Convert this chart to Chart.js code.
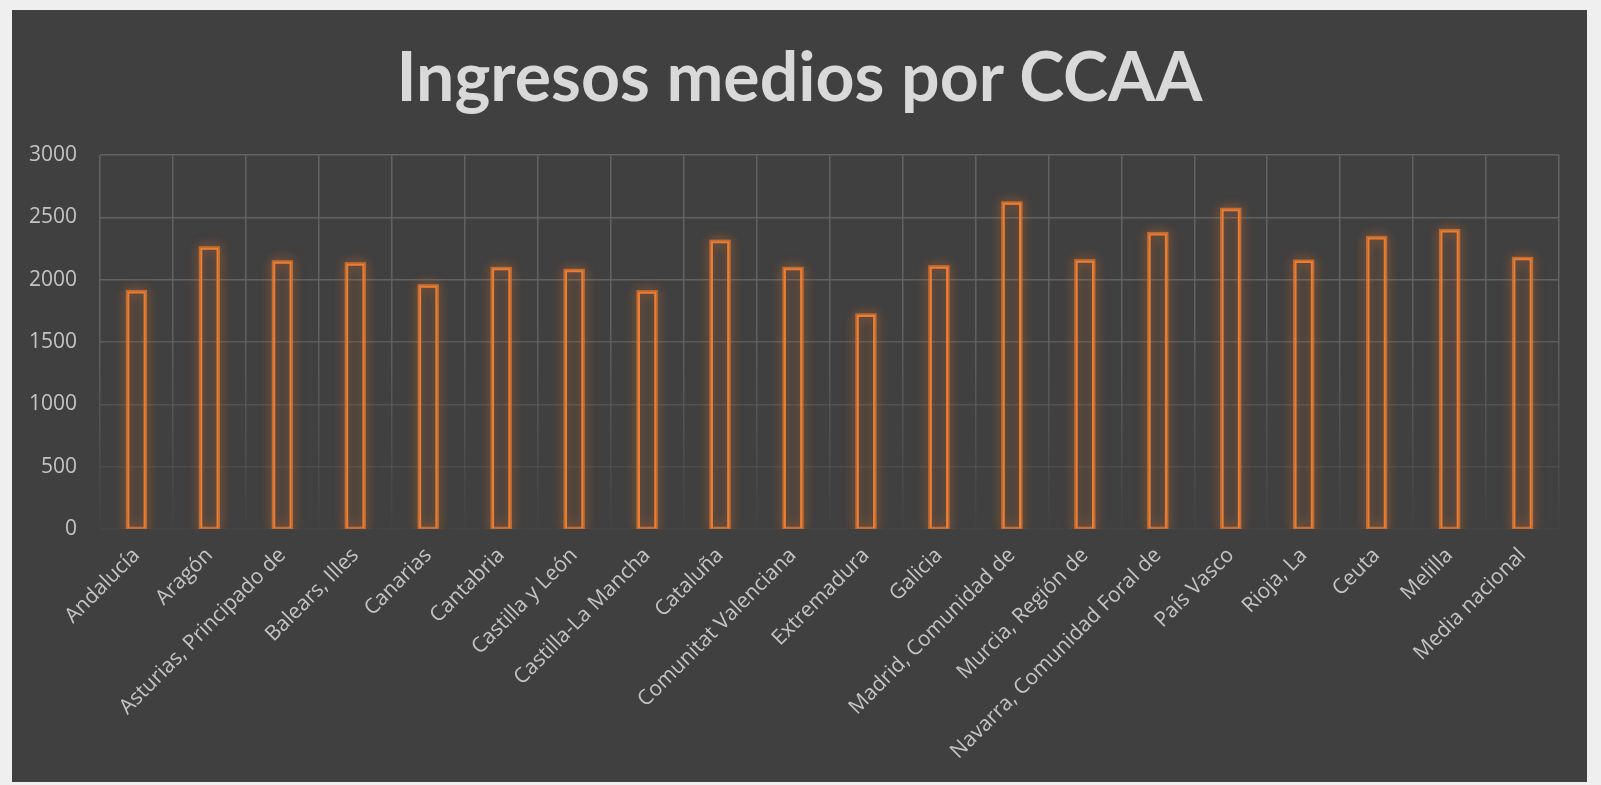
<!DOCTYPE html>
<html>
<head>
<meta charset="utf-8">
<script src="https://cdn.jsdelivr.net/npm/chart.js@4.4.0/dist/chart.umd.min.js"></script>
<style>
    html, body { margin: 0; padding: 0; background: #efefef; }
    body { width: 1601px; height: 785px; position: relative; overflow: hidden; }
    #panel {
        position: absolute; left: 12px; top: 10px;
        width: 1575px; height: 772px;
        background: #404040;
    }
    #title {
        position: absolute; left: 0; top: 31px; width: 1575px;
        text-align: center;
        font-family: Lato, sans-serif; font-weight: bold;
        color: #d9d9d9; line-height: 1;
    }
    canvas { display: block; position: absolute; left: 0; top: 0; }
</style>
</head>
<body>
<div id="panel">
    <canvas id="ingresosChart" width="1575" height="772"></canvas>
    <div id="title"></div>
</div>
<script>
// Ingresos medios por comunidad autónoma
const chartTitle = 'Ingresos medios por CCAA';

const comunidades = [
    'Andalucía', 'Aragón', 'Asturias, Principado de', 'Balears, Illes', 'Canarias',
    'Cantabria', 'Castilla y León', 'Castilla-La Mancha', 'Cataluña', 'Comunitat Valenciana',
    'Extremadura', 'Galicia', 'Madrid, Comunidad de', 'Murcia, Región de',
    'Navarra, Comunidad Foral de', 'País Vasco', 'Rioja, La', 'Ceuta', 'Melilla', 'Media nacional'
];

const ingresos = [
    1906, 2256, 2144, 2128, 1952,
    2091, 2075, 1904, 2309, 2091,
    1717, 2104, 2616, 2152,
    2371, 2565, 2149, 2339, 2395, 2171
];

const yTicks = [0, 500, 1000, 1500, 2000, 2500, 3000];

const ORANGE = '#ED7D31';
const TEXT = '#c4c4c4';

// title: sized so it spans about the same width as the original
(function() {
    const c = document.createElement('canvas').getContext('2d');
    c.font = 'bold 100px Lato';
    const w = c.measureText(chartTitle).width;
    const el = document.getElementById('title');
    el.style.fontSize = Math.round(100 * 806 / w) + 'px';
    el.textContent = chartTitle;
})();

// soft orange halo behind each bar outline
const glowPlugin = {
    id: 'glow',
    beforeDatasetsDraw(chart) {
        const ctx = chart.ctx;
        const area = chart.chartArea;
        ctx.save();
        ctx.beginPath();
        ctx.rect(area.left, area.top - 20, area.right - area.left, area.bottom - area.top + 20);
        ctx.clip();
        ctx.strokeStyle = 'rgba(237, 125, 49, 0.45)';
        ctx.lineWidth = 3;
        ctx.shadowColor = 'rgba(237, 125, 49, 0.9)';
        ctx.shadowBlur = 12;
        chart.getDatasetMeta(0).data.forEach(bar => {
            const p = bar.getProps(['x', 'y', 'base', 'width'], true);
            ctx.strokeRect(p.x - p.width / 2, p.y, p.width, p.base - p.y);
            ctx.strokeRect(p.x - p.width / 2, p.y, p.width, p.base - p.y);
        });
        ctx.restore();
    }
};

function verticalGridColor(context) {
    const chart = context.chart;
    const area = chart.chartArea;
    if (!area) return '#5a5a5a';
    const g = chart.ctx.createLinearGradient(0, area.top, 0, area.bottom);
    g.addColorStop(0, 'rgba(98,98,98,1)');
    g.addColorStop(0.45, 'rgba(98,98,98,1)');
    g.addColorStop(1, 'rgba(98,98,98,0.05)');
    return g;
}

function horizontalGridColor(context) {
    const v = context.tick ? context.tick.value : 3000;
    const a = Math.max(0.12, Math.min(1, 0.12 + (v / 2000) * 0.88));
    return 'rgba(98,98,98,' + a.toFixed(2) + ')';
}

const ctx = document.getElementById('ingresosChart');
new Chart(ctx, {
    type: 'bar',
    data: {
        labels: comunidades,
        datasets: [{
            label: 'Ingresos medios',
            data: ingresos,
            backgroundColor: 'rgba(0,0,0,0)',
            borderColor: ORANGE,
            borderWidth: 2,
            categoryPercentage: 1.0,
            barPercentage: 0.25
        }]
    },
    options: {
        responsive: false,
        animation: false,
        layout: { padding: { left: 0, right: 28, top: 145, bottom: 0 } },
        plugins: {
            legend: { display: false },
            tooltip: { enabled: false },
            title: { display: false }
        },
        scales: {
            y: {
                min: 0,
                max: 3000,
                afterBuildTicks: function(scale) {
                    scale.ticks = yTicks.map(v => ({ value: v }));
                },
                afterFit: function(scale) { scale.width = 88; },
                border: { display: false },
                grid: { color: horizontalGridColor, lineWidth: 1.5, drawTicks: false },
                ticks: {
                    color: TEXT,
                    padding: 23,
                    font: { family: 'Open Sans', size: 21 },
                    callback: function(value) { return String(value); }
                }
            },
            x: {
                afterFit: function(scale) { scale.height = 253; },
                border: { display: false },
                grid: { color: verticalGridColor, lineWidth: 1.5, drawTicks: false, offset: true },
                ticks: {
                    color: TEXT,
                    minRotation: 45,
                    maxRotation: 45,
                    autoSkip: false,
                    padding: 14,
                    font: { family: 'Open Sans', size: 21 }
                }
            }
        }
    },
    plugins: [glowPlugin]
});
</script>
</body>
</html>
